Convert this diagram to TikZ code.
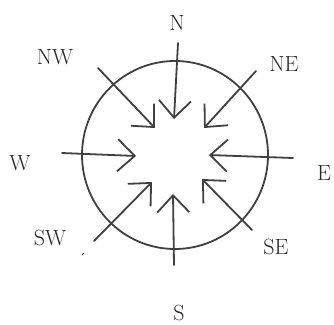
\documentclass[tikz,border=0pt]{standalone}
\usetikzlibrary{arrows.meta,shapes.geometric}
\begin{document}
\begin{tikzpicture}[x=1pt,y=-1pt,
  lbl/.style={font=\fontsize{22}{26}\selectfont, inner sep=0pt, text=black!85},
  ink/.style={draw=black!75, line width=1.8pt, line cap=round, line join=round},
  wind/.style={ink, -{Straight Barb[length=17pt,width=32pt,line width=1.8pt]}}]
\useasboundingbox (0,0) rectangle (334,324);
% circle
\node[ink, ellipse, minimum width=186pt, minimum height=188pt, inner sep=0pt] (ring) at (175,155) {};
% labels
\node[lbl] (n) at (177,23) {N};
\node[lbl] (nw) at (55,57) {NW};
\node[lbl] (ne) at (284,64) {NE};
\node[lbl] (w) at (20,163) {W};
\node[lbl] (e) at (324,173) {E};
\node[lbl] (sw) at (50,238) {SW};
\node[lbl] (se) at (276,247) {SE};
\node[lbl] (s) at (179,313) {S};
% arrow ends
\coordinate (n1) at (178,43);  \coordinate (n2) at (174,119);
\coordinate (ne1) at (256,71); \coordinate (ne2) at (204,128);
\coordinate (e1) at (293,158); \coordinate (e2) at (209,155);
\coordinate (se1) at (252,230); \coordinate (se2) at (202,179);
\coordinate (s1) at (174,265); \coordinate (s2) at (173,194);
\coordinate (sw1) at (94,241); \coordinate (sw2) at (152,182);
\coordinate (w1) at (62,153); \coordinate (w2) at (136,156);
\coordinate (nw1) at (98,68); \coordinate (nw2) at (155,128);
\coordinate (sw0) at (82,255); \coordinate (sw00) at (84,253);
\draw[wind] (n1) -- (n2);
\draw[wind] (ne1) -- (ne2);
\draw[wind] (e1) -- (e2);
\draw[wind] (se1) -- (se2);
\draw[wind] (s1) -- (s2);
\draw[wind] (sw1) -- (sw2);
\draw[wind] (w1) -- (w2);
\draw[wind] (nw1) -- (nw2);
\draw[ink, line width=0.8pt] (sw0) -- (sw00);
\end{tikzpicture}
\end{document}
